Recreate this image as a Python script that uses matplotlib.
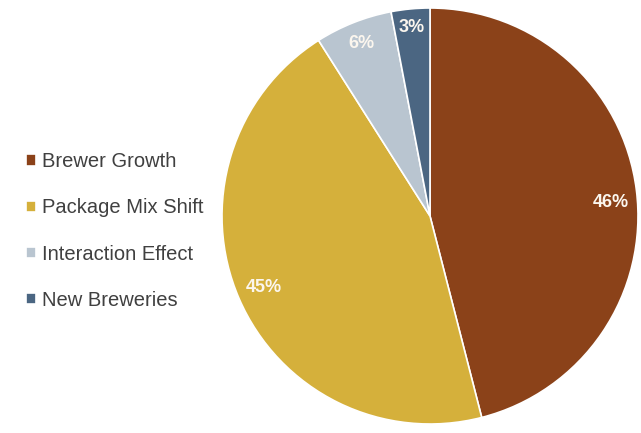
import matplotlib
matplotlib.use('Agg')
import matplotlib.pyplot as plt
import numpy as np

# contribution shares
labels = ['Brewer Growth', 'Package Mix Shift', 'Interaction Effect', 'New Breweries']
shares = [46, 45, 6, 3]
colors = ['#8b4219', '#d5b03b', '#b9c5d0', '#4b6682']
# how far out (in radii) each percentage sits, and a small turn in degrees
label_r = [0.87, 0.87, 0.89, 0.91]
label_turn = [-3, 0, 0, 0]

plt.rcParams['font.family'] = ['Liberation Sans', 'DejaVu Sans']

W, H = 641, 433
fig = plt.figure(figsize=(W / 100, H / 100), dpi=100)

cx, cy, r = 430, 216, 208
ax = fig.add_axes([(cx - r) / W, (H - cy - r) / H, 2 * r / W, 2 * r / H])

wedges, _ = ax.pie(shares, colors=colors, startangle=90, counterclock=False,
                   wedgeprops=dict(edgecolor='white', linewidth=1.2))

for w, v, d, t in zip(wedges, shares, label_r, label_turn):
    mid = np.deg2rad((w.theta1 + w.theta2) / 2 + t)
    ax.text(d * np.cos(mid), d * np.sin(mid), f'{v}%', color='#fbf6ee',
            fontsize=13, fontweight='bold', ha='center', va='center')

ax.set_xlim(-1, 1)
ax.set_ylim(-1, 1)
ax.set_aspect('equal')

fig.legend(wedges, labels, loc='center left', bbox_to_anchor=(16 / W, 1 - 231 / H),
           frameon=False, fontsize=14.5, handlelength=0.5, handleheight=0.5,
           handletextpad=0.3, labelspacing=1.35, borderpad=0, labelcolor='#404040')

fig.savefig('out.png', dpi=100)
